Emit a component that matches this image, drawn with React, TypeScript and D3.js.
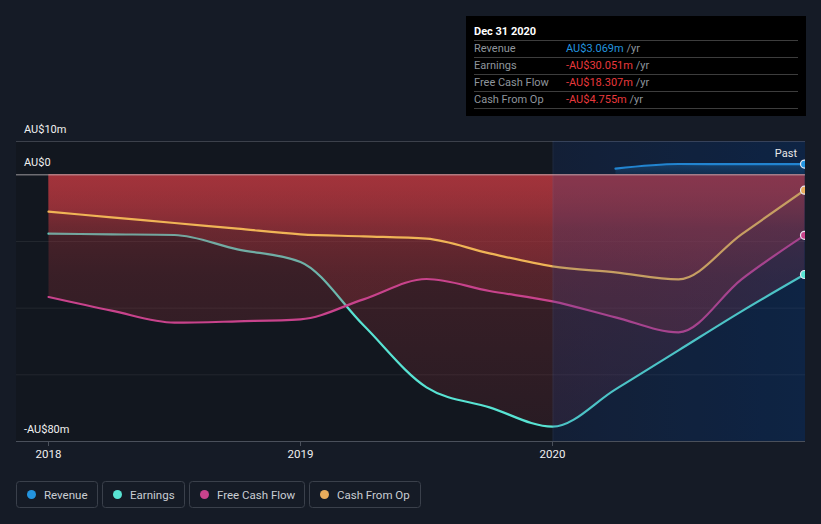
import React from "react";
import * as d3 from "d3";

const quarters = [2018, 2018.25, 2018.5, 2018.75, 2019, 2019.25, 2019.5, 2019.75, 2020, 2020.25, 2020.5, 2020.75, 2021];
const revenueDates = [2020.25, 2020.5, 2020.75, 2021];
const revenue = [1.7, 3.1, 3.07, 3.069];
const earnings = [-17.8, -18.0, -18.2, -22.5, -26.3, -45.3, -63.9, -69.9, -75.7, -64.5, -52.8, -41.1, -30.051];
const freeCashFlow = [-36.8, -40.9, -44.5, -44.1, -43.5, -37.5, -31.4, -35.0, -38.1, -42.9, -47.4, -31.5, -18.307];
const cashFromOp = [-11.2, -12.9, -14.6, -16.3, -18.0, -18.6, -19.3, -23.7, -27.6, -29.4, -31.5, -18.0, -4.755];

const yTicks = [10, 0, -80];
const yTickLabels = ["AU$10m", "AU$0", "-AU$80m"];
const gridValues = [-20, -40, -60];
const xTicks = [2018, 2019, 2020];
const xTickLabels = ["2018", "2019", "2020"];
const pastStart = 2020;

const tooltipTitle = "Dec 31 2020";
const tooltipLabels = ["Revenue", "Earnings", "Free Cash Flow", "Cash From Op"];
const tooltipValues = ["AU$3.069m", "-AU$30.051m", "-AU$18.307m", "-AU$4.755m"];

const legendNames = ["Revenue", "Earnings", "Free Cash Flow", "Cash From Op"];
const colors = ["#2394df", "#58e3d3", "#c8438c", "#f0b456"];
const dotColors = ["#2394df", "#58e3d3", "#c8438c", "#e8ac5c"];

const W = 821;
const H = 524;
const plotL = 16;
const plotR = 805;
const FONT = "Roboto, 'Noto Sans', sans-serif";

export default function App() {
  const x = d3.scaleLinear().domain([2018, 2021]).range([48.5, 804.5]);
  const y = d3.scaleLinear().domain([-80, 10]).range([441, 141]);

  const line = d3
    .line<[number, number]>()
    .x((d) => x(d[0]))
    .y((d) => y(d[1]))
    .curve(d3.curveMonotoneX);
  const area = d3
    .area<[number, number]>()
    .x((d) => x(d[0]))
    .y0(y(0))
    .y1((d) => y(d[1]))
    .curve(d3.curveMonotoneX);

  const negSeries = [earnings, freeCashFlow, cashFromOp].map((s) =>
    quarters.map((q, i) => [q, s[i]] as [number, number])
  );
  const revPts = revenueDates.map((q, i) => [q, revenue[i]] as [number, number]);
  const seriesPts = [revPts, ...negSeries];

  const legendBoxes = [
    { x: 16, w: 81 },
    { x: 102, w: 82 },
    { x: 189, w: 115 },
    { x: 309, w: 111 },
  ];

  const xp = x(pastStart);

  return (
    <svg
      width={W}
      height={H}
      style={{ position: "absolute", left: 0, top: 0, display: "block" }}
      fontFamily={FONT}
    >
      <defs>
        <linearGradient id="redGrad" gradientUnits="userSpaceOnUse" x1="0" y1={y(0)} x2="0" y2={y(-80)}>
          <stop offset="0" stopColor="#a8343c" stopOpacity={0.66} />
          <stop offset="0.2" stopColor="#a8343c" stopOpacity={0.36} />
          <stop offset="0.38" stopColor="#a8343c" stopOpacity={0.26} />
          <stop offset="1" stopColor="#a8343c" stopOpacity={0.14} />
        </linearGradient>
        <linearGradient id="pastBg" x1="0" y1="0" x2="1" y2="0">
          <stop offset="0" stopColor="#11161f" />
          <stop offset="1" stopColor="#0a1c30" />
        </linearGradient>
        <linearGradient id="revGrad" gradientUnits="userSpaceOnUse" x1="0" y1={y(4)} x2="0" y2={y(0)}>
          <stop offset="0" stopColor="#2394df" stopOpacity={0.35} />
          <stop offset="1" stopColor="#2394df" stopOpacity={0.1} />
        </linearGradient>
        <clipPath id="plotClip">
          <rect x={plotL} y={y(10)} width={plotR - plotL} height={y(-80) - y(10)} />
        </clipPath>
      </defs>

      <rect x={0} y={0} width={W} height={H} fill="#151b26" />
      <rect x={plotL} y={y(10)} width={plotR - plotL} height={y(-80) - y(10)} fill="#12171f" />
      <rect x={xp} y={y(10)} width={plotR - xp} height={y(-80) - y(10)} fill="url(#pastBg)" />

      {gridValues.map((g) => (
        <line key={g} x1={plotL} x2={plotR} y1={y(g) + 0.5} y2={y(g) + 0.5} stroke="#ffffff" strokeOpacity={0.07} />
      ))}
      <line x1={plotL} x2={plotR} y1={y(10) + 0.5} y2={y(10) + 0.5} stroke="#3c414b" />

      <g clipPath="url(#plotClip)">
        <path d={area(revPts) || ""} fill="url(#revGrad)" />
        <path d={line(revPts) || ""} fill="none" stroke={colors[0]} strokeWidth={2.2} strokeLinecap="round" />
        {negSeries.map((pts, i) => (
          <g key={i}>
            <path d={area(pts) || ""} fill="url(#redGrad)" />
            <path d={line(pts) || ""} fill="none" stroke={colors[i + 1]} strokeWidth={2.2} strokeLinecap="round" />
          </g>
        ))}
        <rect x={xp} y={y(10)} width={plotR - xp} height={y(-80) - y(10)} fill="rgb(30,70,150)" fillOpacity={0.2} />
        <line x1={xp + 0.5} x2={xp + 0.5} y1={y(10)} y2={y(-80)} stroke="#ffffff" strokeOpacity={0.05} />
      </g>

      <line x1={plotL} x2={plotR} y1={y(0) + 0.5} y2={y(0) + 0.5} stroke="#c9c3c6" strokeOpacity={0.75} />

      <g clipPath="url(#plotClip)">
        {seriesPts.map((pts, i) => {
          const last = pts[pts.length - 1];
          return (
            <circle key={i} cx={x(last[0])} cy={y(last[1])} r={4} fill={dotColors[i]} stroke="#e6e6f0" strokeWidth={1.2} />
          );
        })}
      </g>

      <text x={797} y={157} textAnchor="end" fontSize={11} fill="#e8e8e8">Past</text>

      {yTicks.map((t, i) => (
        <text key={t} x={24} y={y(t) - 8} fontSize={11} fill="#f0f0f0">{yTickLabels[i]}</text>
      ))}

      <line x1={plotL} x2={plotR} y1={y(-80) + 0.5} y2={y(-80) + 0.5} stroke="#4a505b" />
      {xTicks.map((t, i) => (
        <g key={t}>
          <line x1={x(t)} x2={x(t)} y1={y(-80)} y2={y(-80) + 5} stroke="#4a505b" />
          <text x={x(t)} y={458} textAnchor="middle" fontSize={11.5} fill="#f0f0f0">{xTickLabels[i]}</text>
        </g>
      ))}

      {legendBoxes.map((b, i) => (
        <g key={i}>
          <rect x={b.x + 0.5} y={481.5} width={b.w} height={26} rx={3} fill="#151b26" stroke="#3a404b" />
          <circle cx={b.x + 15.5} cy={494.5} r={4.5} fill={dotColors[i]} />
          <text x={b.x + 28} y={498.5} fontSize={11.5} fill="#c9cdd3">{legendNames[i]}</text>
        </g>
      ))}

      <rect x={466} y={16} width={340} height={100} fill="#000000" />
      <text x={474} y={35} fontSize={11} fontWeight="bold" fill="#ffffff">{tooltipTitle}</text>
      {tooltipLabels.map((lab, i) => {
        const base = 52 + i * 17;
        return (
          <g key={lab}>
            <line x1={474} x2={798} y1={40.5 + i * 17} y2={40.5 + i * 17} stroke="#3d3d3d" />
            <text x={474} y={base} fontSize={11} fill="#8f959c">{lab}</text>
            <text x={566} y={base} fontSize={11}>
              <tspan fill={i === 0 ? "#2394df" : "#e8393c"}>{tooltipValues[i]}</tspan>
              <tspan fill="#8f959c"> /yr</tspan>
            </text>
          </g>
        );
      })}
      <line x1={474} x2={798} y1={108.5} y2={108.5} stroke="#3d3d3d" />
    </svg>
  );
}
